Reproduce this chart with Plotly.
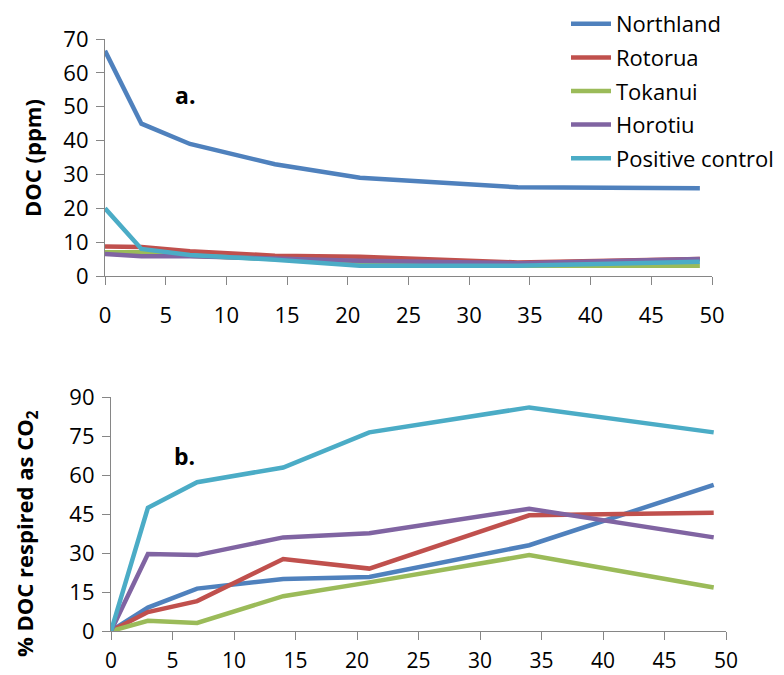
import plotly.graph_objects as go

# Sampling days
days = [0, 3, 7, 14, 21, 34, 49]

# Dissolved organic carbon (ppm)
doc_northland = [66.5, 45.0, 39.0, 33.0, 29.0, 26.2, 25.9]
doc_rotorua = [8.7, 8.6, 7.3, 6.0, 5.7, 4.0, 5.0]
doc_tokanui = [7.0, 7.0, 6.0, 5.0, 4.0, 3.0, 3.0]
doc_horotiu = [6.5, 5.8, 5.8, 5.0, 4.5, 3.8, 5.0]
doc_control = [20.0, 8.0, 6.2, 4.8, 3.0, 3.0, 4.2]

# Percentage of DOC respired as CO2
resp_northland = [0, 9.0, 16.3, 20.0, 20.8, 33.0, 56.2]
resp_rotorua = [0, 7.3, 11.5, 27.7, 24.0, 44.5, 45.5]
resp_tokanui = [0, 3.9, 3.1, 13.4, 18.7, 29.2, 16.7]
resp_horotiu = [0, 29.6, 29.2, 36.0, 37.6, 47.0, 36.0]
resp_control = [0, 47.4, 57.2, 62.9, 76.4, 86.0, 76.4]

names = ["Northland", "Rotorua", "Tokanui", "Horotiu", "Positive control"]
colors = ["#4F81BD", "#C0504D", "#9BBB59", "#8064A2", "#4BACC6"]
doc_series = [doc_northland, doc_rotorua, doc_tokanui, doc_horotiu, doc_control]
resp_series = [resp_northland, resp_rotorua, resp_tokanui, resp_horotiu, resp_control]

W, H = 784, 675
FONT = "Open Sans"

fig = go.Figure()

for name, color, ys in zip(names, colors, doc_series):
    fig.add_trace(go.Scatter(
        x=days, y=ys, mode="lines", name=name,
        line=dict(color=color, width=4.5),
        xaxis="x", yaxis="y", legendgroup=name,
    ))

for name, color, ys in zip(names, colors, resp_series):
    fig.add_trace(go.Scatter(
        x=days, y=ys, mode="lines", name=name,
        line=dict(color=color, width=4.5),
        xaxis="x2", yaxis="y2", showlegend=False, legendgroup=name,
    ))

axis_common = dict(
    showgrid=False, zeroline=False, showline=True,
    linecolor="#868686", linewidth=1.2,
    ticks="outside", ticklen=8, tickcolor="#868686", tickwidth=1.2,
    tickfont=dict(family=FONT, size=22, color="#000000"),
    automargin=False,
)

fig.update_layout(
    width=W, height=H,
    margin=dict(l=0, r=0, t=0, b=0),
    paper_bgcolor="white", plot_bgcolor="white",
    font=dict(family=FONT, color="#000000"),
    xaxis=dict(axis_common, domain=[105 / W, 712 / W], range=[0, 50],
               dtick=5, tick0=0, anchor="y", ticklabelstandoff=11),
    yaxis=dict(axis_common, domain=[1 - 276 / H, 1 - 39 / H], range=[0, 70],
               dtick=10, tick0=0, anchor="x", ticklabelstandoff=3),
    xaxis2=dict(axis_common, domain=[111 / W, 726 / W], range=[0, 50],
                dtick=5, tick0=0, anchor="y2", ticklabelstandoff=3,
                tickfont=dict(family=FONT, size=21, color="#000000")),
    yaxis2=dict(axis_common, domain=[1 - 631 / H, 1 - 397 / H], range=[0, 90],
                dtick=15, tick0=0, anchor="x2", ticklabelstandoff=3),
    legend=dict(
        x=566 / W, y=1 - 3 / H, xanchor="left", yanchor="top",
        bgcolor="rgba(0,0,0,0)", borderwidth=0,
        font=dict(family=FONT, size=22, color="#000000"),
        tracegroupgap=2, itemwidth=40,
    ),
    showlegend=True,
)

annotations = [
    dict(text="<b>a.</b>", x=6.6, y=53.5, xref="x", yref="y", showarrow=False,
         font=dict(family=FONT, size=23)),
    dict(text="<b>b.</b>", x=6.0, y=67.4, xref="x2", yref="y2", showarrow=False,
         font=dict(family=FONT, size=23)),
    dict(text="<b>DOC (ppm)</b>", x=32 / W, y=1 - 158 / H, xref="paper", yref="paper",
         xanchor="center", yanchor="middle",
         textangle=-90, showarrow=False, font=dict(family=FONT, size=22)),
    dict(text="<b>% DOC respired as CO<sub>2</sub></b>", x=26 / W, y=1 - 534 / H,
         xref="paper", yref="paper", xanchor="center", yanchor="middle",
         textangle=-90, showarrow=False, font=dict(family=FONT, size=22)),
]
fig.update_layout(annotations=annotations)

fig.write_html("out.html")
